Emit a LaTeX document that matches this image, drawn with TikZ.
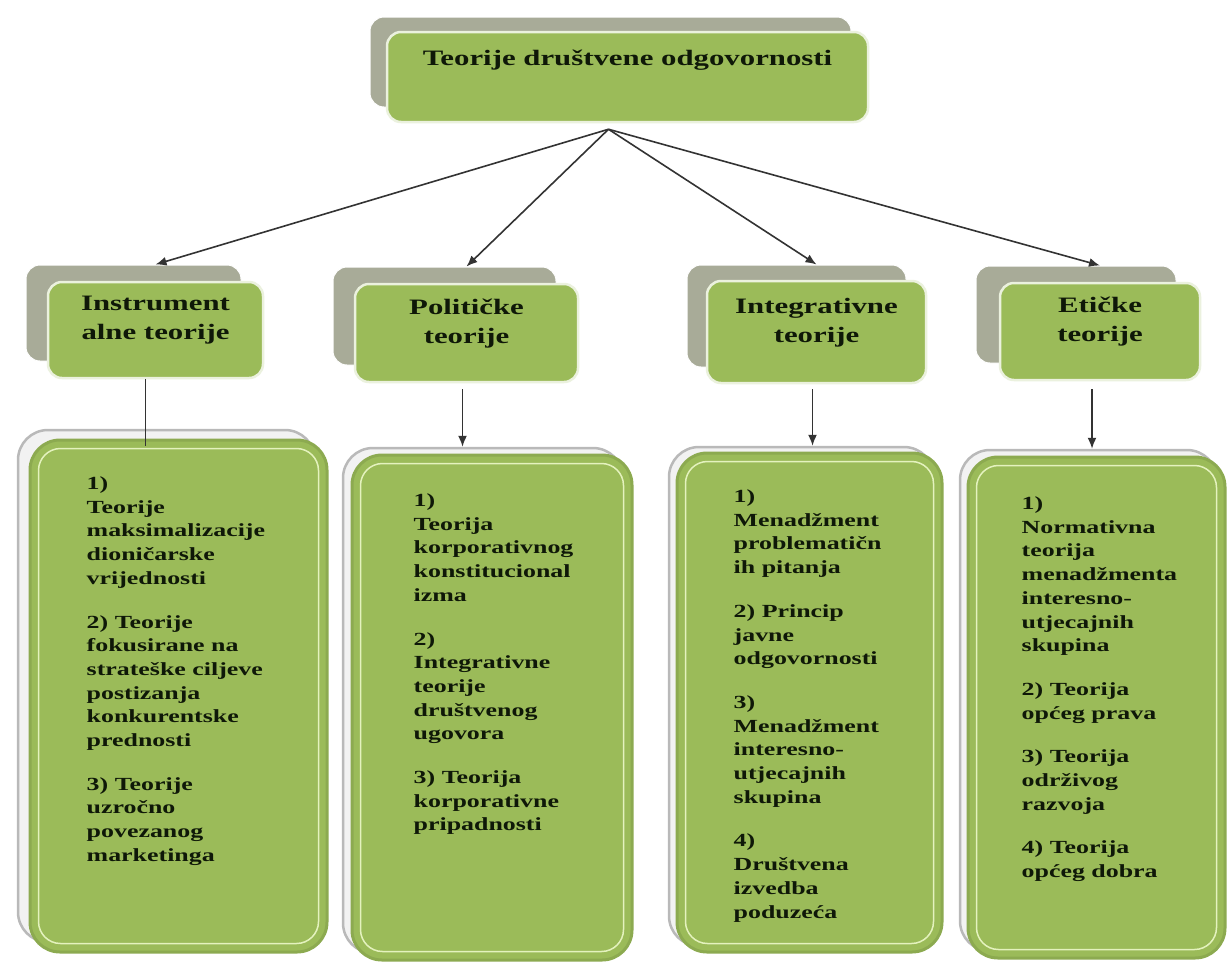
\documentclass[tikz,border=0pt]{standalone}
\usepackage{fontspec}
\setmainfont{Liberation Serif}[FakeStretch=1.4]
\usetikzlibrary{positioning,calc,arrows.meta}
\definecolor{leafgreen}{RGB}{155,187,89}
\definecolor{rimgreen}{RGB}{140,170,80}
\definecolor{glintgreen}{RGB}{228,242,190}
\definecolor{ashgray}{RGB}{168,171,152}
\definecolor{inkgreen}{RGB}{15,24,8}

\begin{document}
\begin{tikzpicture}[x=1pt,y=-1pt,
  back/.style={rounded corners=14pt,fill=ashgray,draw=white,line width=1pt},
  head/.style={rounded corners=14pt,fill=leafgreen,draw=white!80!leafgreen,line width=2.5pt,
    align=center,font=\bfseries\fontsize{22}{29}\selectfont,text=inkgreen,text depth=24pt},
  listback/.style={rounded corners=30pt,fill=gray!10,draw=gray!55,line width=2.5pt},
  listbox/.style={rounded corners=30pt,fill=leafgreen,draw=rimgreen,line width=3pt},
  glint/.style={rounded corners=22pt,draw=glintgreen,line width=1.5pt},
  items/.style={anchor=north west,align=left,inner sep=0pt,
    font=\bfseries\fontsize{18.5}{23.7}\selectfont,text=inkgreen},
  link/.style={draw=black!80,line width=1.6pt},
  arr/.style={link,-{Latex[length=11pt,width=9pt]}}
]
\fill[white] (0,0) rectangle (1230,967);
\useasboundingbox (0,0) rectangle (1230,967);

\node[back,minimum width=481pt,minimum height=90pt] (tops) at (610.5,62) {};
\node[head,minimum width=481pt,minimum height=90pt,text depth=39pt] (top) at (627.5,77) {Teorije društvene odgovornosti};

\node[back,minimum width=215pt,minimum height=96pt] (h1s) at (133.5,313) {};
\node[head,minimum width=215pt,minimum height=96pt] (h1) at (155.5,330) {Instrument\\alne teorije};
\node[back,minimum width=223pt,minimum height=98pt] (h2s) at (444.5,316) {};
\node[head,minimum width=223pt,minimum height=98pt] (h2) at (466.5,333) {Političke\\teorije};
\node[back,minimum width=219pt,minimum height=102pt] (h3s) at (796.5,316) {};
\node[head,minimum width=219pt,minimum height=102pt] (h3) at (816.5,332) {Integrativne\\teorije};
\node[back,minimum width=200pt,minimum height=97pt] (h4s) at (1076,314.5) {};
\node[head,minimum width=200pt,minimum height=97pt] (h4) at (1100,331.5) {Etičke\\teorije};

\node[listback,minimum width=297pt,minimum height=512pt] (b1s) at (166.5,686) {};
\node[listbox,minimum width=297pt,minimum height=512pt] (b1) at (178.5,696) {};
\node[listback,minimum width=280pt,minimum height=505pt] (b2s) at (483,700.5) {};
\node[listbox,minimum width=280pt,minimum height=505pt] (b2) at (492,707.5) {};
\node[listback,minimum width=265pt,minimum height=499pt] (b3s) at (801.5,696.5) {};
\node[listbox,minimum width=265pt,minimum height=499pt] (b3) at (809.5,702.5) {};
\node[listback,minimum width=257pt,minimum height=501pt] (b4s) at (1088.5,700.5) {};
\node[listbox,minimum width=257pt,minimum height=501pt] (b4) at (1096.5,707.5) {};
\foreach \b in {b1,b2,b3,b4}
  \draw[glint] ([shift={(10,10)}]\b.north west) rectangle ([shift={(-10,-10)}]\b.south east);

\node[items] (t1) at ([shift={(58,38)}]b1.north west) {1)\\Teorije\\maksimalizacije\\dioničarske\\vrijednosti\\[20pt]
  2) Teorije\\fokusirane na\\strateške ciljeve\\postizanja\\konkurentske\\prednosti\\[20pt]
  3) Teorije\\uzročno\\povezanog\\marketinga};
\node[items] (t2) at ([shift={(63,40)}]b2.north west) {1)\\Teorija\\korporativnog\\konstitucional\\izma\\[20pt]
  2)\\Integrativne\\teorije\\društvenog\\ugovora\\[20pt]
  3) Teorija\\korporativne\\pripadnosti};
\node[items] (t3) at ([shift={(58,38)}]b3.north west) {1)\\Menadžment\\problematičn\\ih pitanja\\[20pt]
  2) Princip\\javne\\odgovornosti\\[20pt]
  3)\\Menadžment\\interesno-\\utjecajnih\\skupina\\[20pt]
  4)\\Društvena\\izvedba\\poduzeća};
\node[items] (t4) at ([shift={(55,41)}]b4.north west) {1)\\Normativna\\teorija\\menadžmenta\\interesno-\\utjecajnih\\skupina\\[20pt]
  2) Teorija\\općeg prava\\[20pt]
  3) Teorija\\održivog\\razvoja\\[20pt]
  4) Teorija\\općeg dobra};

\coordinate (apex) at ([shift={(-19,6)}]top.south);
\foreach \h in {h1,h2,h3,h4}
  \draw[arr] (apex) -- (\h.north |- \h s.north);
\draw[link] ($(h1.south)+(-10,0)$) -- ($(h1.south |- b1.north)+(-10,7)$);
\draw[arr] ($(h2.south)+(-4,6)$) -- ($(h2.south |- b2s.north)+(-4,0)$);
\draw[arr] ($(h3.south)+(-4,5)$) -- ($(h3.south |- b3s.north)+(-4,0)$);
\draw[arr] ($(h4.south)+(-8,8)$) -- ($(h4.south |- b4s.north)+(-8,0)$);
\end{tikzpicture}
\end{document}
